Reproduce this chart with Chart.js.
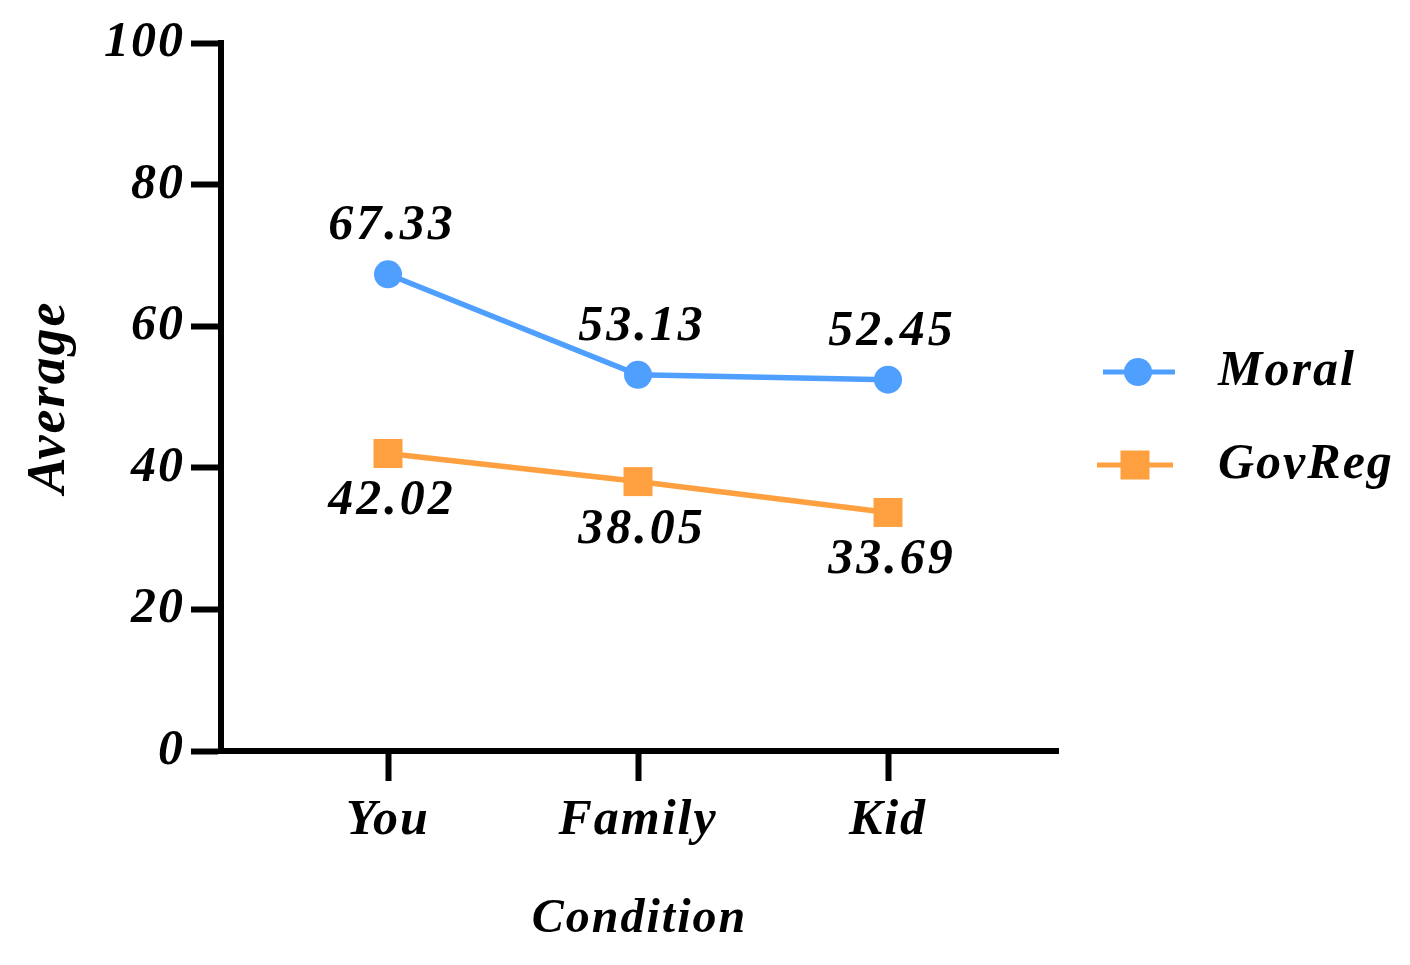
<!DOCTYPE html>
<html>
<head>
<meta charset="utf-8">
<script src="https://cdn.jsdelivr.net/npm/chart.js@4.4.1/dist/chart.umd.min.js"></script>
<style>
  html, body { margin: 0; padding: 0; background: #fff; }
  #wrap { width: 1410px; height: 965px; }
</style>
</head>
<body>
<div id="wrap"><canvas id="myChart" width="1410" height="965"></canvas></div>
<script>
// data
const conditions = ['You', 'Family', 'Kid'];
const moral = [67.33, 53.13, 52.45];
const govReg = [42.02, 38.05, 33.69];
const yTicks = [0, 20, 40, 60, 80, 100];

const blue = '#4f9fff';
const orange = '#ffa040';
const serif = "'Liberation Serif', 'Times New Roman', serif";

Chart.defaults.font.family = serif;
Chart.defaults.font.weight = 'bold';
Chart.defaults.font.style = 'italic';
Chart.defaults.color = '#000';

// the reference text is a bit wider than Liberation Serif
const spacingPlugin = {
  id: 'spacing',
  beforeDraw(chart) { chart.ctx.letterSpacing = '2px'; }
};

// value labels + side legend
const labelPlugin = {
  id: 'labels',
  afterDatasetsDraw(chart) {
    const ctx = chart.ctx;
    ctx.save();
    ctx.letterSpacing = '3px';
    ctx.font = 'italic bold 50px ' + serif;
    ctx.fillStyle = '#000';
    ctx.textAlign = 'center';
    ctx.textBaseline = 'middle';
    chart.data.datasets.forEach((ds, i) => {
      const meta = chart.getDatasetMeta(i);
      meta.data.forEach((pt, j) => {
        const dy = i === 0 ? -48 : 48;
        ctx.fillText(ds.data[j].y.toFixed(2), pt.x + 4, pt.y + dy);
      });
    });

    // legend
    ctx.letterSpacing = '2px';
    const items = [
      {text: 'Moral', color: blue, shape: 'circle', y: 372, x0: 1103, x1: 1175, cx: 1138},
      {text: 'GovReg', color: orange, shape: 'square', y: 465, x0: 1097, x1: 1173, cx: 1135}
    ];
    items.forEach(it => {
      ctx.strokeStyle = it.color;
      ctx.fillStyle = it.color;
      ctx.lineWidth = 5;
      ctx.beginPath();
      ctx.moveTo(it.x0, it.y);
      ctx.lineTo(it.x1, it.y);
      ctx.stroke();
      if (it.shape === 'circle') {
        ctx.beginPath();
        ctx.arc(it.cx, it.y, 14, 0, Math.PI * 2);
        ctx.fill();
      } else {
        ctx.fillRect(it.cx - 14.5, it.y - 14.5, 29, 29);
      }
      ctx.fillStyle = '#000';
      ctx.textAlign = 'left';
      ctx.fillText(it.text, 1218, it.y);
    });
    ctx.restore();
  }
};

new Chart(document.getElementById('myChart'), {
  type: 'line',
  data: {
    datasets: [{
      label: 'Moral',
      data: moral.map((v, i) => ({x: i, y: v})),
      borderColor: blue,
      backgroundColor: blue,
      borderWidth: 5.5,
      pointStyle: 'circle',
      pointRadius: 14,
      pointBorderWidth: 0,
      tension: 0
    }, {
      label: 'GovReg',
      data: govReg.map((v, i) => ({x: i, y: v})),
      borderColor: orange,
      backgroundColor: orange,
      borderWidth: 5.5,
      pointStyle: 'rect',
      pointRadius: 20.5,
      pointBorderWidth: 0,
      tension: 0
    }]
  },
  options: {
    responsive: false,
    animation: false,
    layout: { padding: { top: 43, right: 1410 - 1058, left: 0, bottom: 0 } },
    plugins: {
      legend: { display: false },
      tooltip: { enabled: false }
    },
    scales: {
      x: {
        type: 'linear',
        min: -0.668,
        max: 2.68,
        afterBuildTicks: s => { s.ticks = conditions.map((c, i) => ({value: i})); },
        afterFit: s => { s.height = 965 - 751; },
        ticks: {
          callback: v => conditions[v],
          font: { size: 50 },
          padding: 10,
          maxRotation: 0
        },
        grid: { display: true, drawOnChartArea: false, drawTicks: true, tickLength: 30, tickWidth: 6, tickColor: '#000' },
        border: { display: true, width: 6, color: '#000' },
        title: { display: true, text: 'Condition', font: { size: 48 }, padding: { top: 0, bottom: 17 } }
      },
      y: {
        min: 0,
        max: 100,
        afterBuildTicks: s => { s.ticks = yTicks.map(v => ({value: v})); },
        afterFit: s => { s.width = 221; },
        ticks: { font: { size: 50 }, padding: 6 },
        grid: { display: true, drawOnChartArea: false, drawTicks: true, tickLength: 30, tickWidth: 6, tickColor: '#000' },
        border: { display: true, width: 6, color: '#000' },
        title: { display: true, text: 'Average', font: { size: 54 }, padding: { top: 18, bottom: 0 } }
      }
    }
  },
  plugins: [spacingPlugin, labelPlugin]
});
</script>
</body>
</html>
